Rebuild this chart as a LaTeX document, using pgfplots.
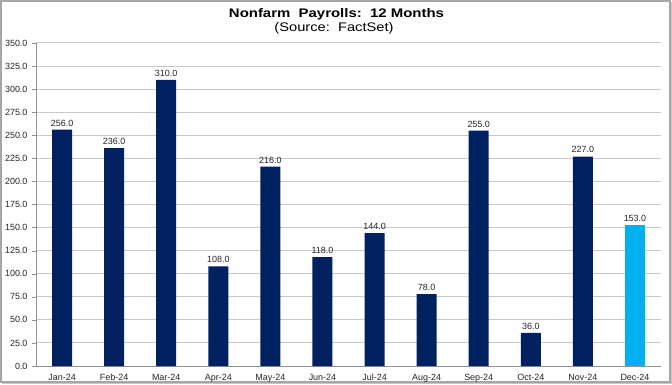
\documentclass[border=0pt]{standalone}
\usepackage{pgfplots}
\pgfplotsset{compat=1.18}
\usepackage{fontspec}
\setmainfont{Liberation Sans}
\definecolor{navy}{HTML}{002060}
\definecolor{lblue}{HTML}{00B0F0}
\definecolor{gridc}{HTML}{C8C8C8}
\definecolor{axc}{HTML}{909090}
\begin{document}
\begin{tikzpicture}[x=1bp,y=1bp]
\useasboundingbox (0,0) rectangle (672,384);
\fill[white] (0,0) rectangle (672,384);
\draw[gray!70, line width=1.2bp] (1,2) rectangle (670,383);
\draw[gray!45, line width=1bp] (671.5,1) -- (671.5,382);
\draw[gray!45, line width=1bp] (2,0.8) -- (671.5,0.8);
\node[font=\fontsize{12.5}{14}\selectfont\bfseries] at (336.5,369.5) {\scalebox{1.2}[1]{Nonfarm\ \ Payrolls:\ \ 12 Months}};
\node[font=\fontsize{12.5}{14}\selectfont] at (334,356) {\scalebox{1.18}[1]{(Source:\ \ FactSet)}};
\begin{axis}[
  at={(36bp,18bp)}, anchor=south west,
  scale only axis, width=625bp, height=323bp,
  ybar, bar width=20bp, bar shift=0pt,
  xmin=-0.5, xmax=11.5, ymin=0, ymax=350,
  ytick={0,25,...,350},
  /pgf/number format/assume math mode=true,
  yticklabel style={/pgf/number format/fixed, /pgf/number format/fixed zerofill, /pgf/number format/precision=1, xshift=-1bp},
  ymajorgrids, grid style={gridc, line width=1bp},
  axis x line*=bottom, axis y line*=left,
  axis line style={axc, line width=0.8bp},
  ytick style={axc}, tick align=outside, major tick length=4bp,
  xtick={0,...,11},
  xticklabels={Jan-24,Feb-24,Mar-24,Apr-24,May-24,Jun-24,Jul-24,Aug-24,Sep-24,Oct-24,Nov-24,Dec-24},
  xtick style={draw=none},
  xticklabel style={text height=7bp, text depth=2bp},
  extra x ticks={-0.5,0.5,...,11.5}, extra x tick labels={},
  extra x tick style={grid=none, tick style={axc, draw=axc}, major tick length=4bp},
  ticklabel style={font=\fontsize{9}{10}\selectfont, text=black!85},
  nodes near coords,
  nodes near coords style={font=\fontsize{9}{10}\selectfont, text=black!85, /pgf/number format/fixed, /pgf/number format/fixed zerofill, /pgf/number format/precision=1, /pgf/number format/assume math mode=true},
  clip=false,
]
\addplot[fill=navy, draw=none] coordinates {(0,256) (1,236) (2,310) (3,108) (4,216) (5,118) (6,144) (7,78) (8,255) (9,36) (10,227)};
\addplot[fill=lblue, draw=none] coordinates {(11,153)};
\end{axis}
\end{tikzpicture}
\end{document}
